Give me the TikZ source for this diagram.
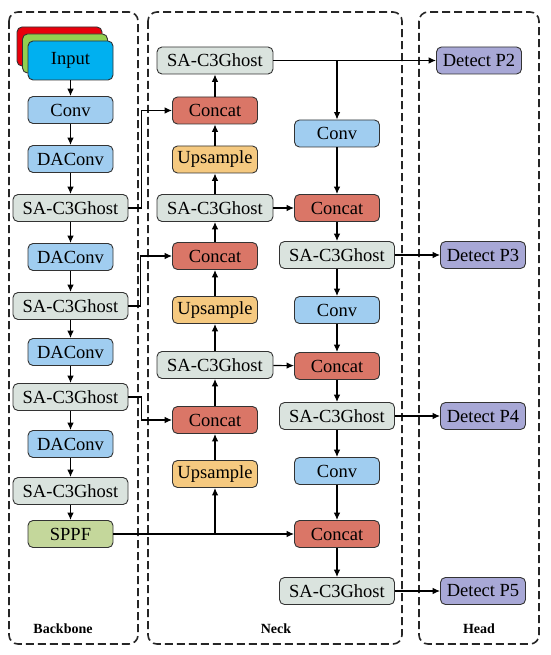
\documentclass[tikz,border=0pt]{standalone}
\usepackage{fontspec}
\setmainfont{Liberation Serif}
\usetikzlibrary{arrows.meta}
\definecolor{sagray}{RGB}{218,227,222}
\definecolor{convblue}{RGB}{160,205,240}
\definecolor{catred}{RGB}{218,118,103}
\definecolor{uporange}{RGB}{245,201,128}
\definecolor{sppfgreen}{RGB}{196,215,155}
\definecolor{detpurple}{RGB}{168,168,214}
\definecolor{inred}{RGB}{232,0,11}
\definecolor{ingreen}{RGB}{146,208,80}
\definecolor{incyan}{RGB}{0,176,240}
\begin{document}
\begin{tikzpicture}[x=1pt,y=-1pt,
		blk/.style={draw=black!80,line width=0.9pt,rounded corners=5pt,minimum height=27pt,minimum width=85pt,inner sep=0pt,font=\fontsize{18.5}{21}\selectfont},
		sabox/.style={blk,fill=sagray,minimum width=116pt},
		convbox/.style={blk,fill=convblue},
		catbox/.style={blk,fill=catred},
		upbox/.style={blk,fill=uporange},
		detbox/.style={blk,fill=detpurple},
		frame/.style={dashed,dash pattern=on 8pt off 4pt,line width=1.6pt,rounded corners=9pt,draw=black!85},
		title/.style={font=\fontsize{14}{16}\selectfont\bfseries},
		>={Latex[length=7.5pt,width=6.5pt]}]
		\useasboundingbox (0,0) rectangle (550,655);

		% frames
		\draw[frame] (9,12) rectangle (138,644);
		\draw[frame] (148,12) rectangle (402,644);
		\draw[frame] (419,12) rectangle (539,644);
		\node[title] (tbb) at (63,629) {Backbone};
		\node[title] (tneck) at (276,629) {Neck};
		\node[title] (thead) at (479,629) {Head};

		% backbone
		\node[blk,fill=inred,minimum height=39pt] (inr) at (59.5,46.5) {};
		\node[blk,fill=ingreen,minimum height=39pt] (ing) at (65,53.5) {};
		\node[blk,fill=incyan,minimum height=39pt] (inp) at (70.5,60.5) {Input};
		\node[convbox] (conv) at (70.5,110) {Conv};
		\node[convbox] (dac1) at (70.5,159) {DAConv};
		\node[sabox,minimum width=115pt] (sa1) at (70.5,208) {SA-C3Ghost};
		\node[convbox] (dac2) at (70.5,257) {DAConv};
		\node[sabox,minimum width=115pt] (sa2) at (70.5,306) {SA-C3Ghost};
		\node[convbox] (dac3) at (70.5,352) {DAConv};
		\node[sabox,minimum width=115pt] (sa3) at (70.5,397) {SA-C3Ghost};
		\node[convbox] (dac4) at (70.5,444) {DAConv};
		\node[sabox,minimum width=115pt] (sa4) at (70.5,491) {SA-C3Ghost};
		\node[blk,fill=sppfgreen] (sppf) at (70.5,534) {SPPF};

		% neck, up path
		\node[sabox] (nsa1) at (215,60.5) {SA-C3Ghost};
		\node[catbox] (cat1) at (215,110.5) {Concat};
		\node[upbox] (up1) at (215,159.5) {Upsample};
		\node[sabox] (nsa2) at (215,208) {SA-C3Ghost};
		\node[catbox] (cat2) at (215,256) {Concat};
		\node[upbox] (up2) at (215,310) {Upsample};
		\node[sabox] (nsa3) at (215,365) {SA-C3Ghost};
		\node[catbox] (cat3) at (215,420) {Concat};
		\node[upbox] (up3) at (215,474) {Upsample};

		% neck, down path
		\node[convbox] (conv2) at (337,133.5) {Conv};
		\node[catbox] (cat4) at (337,208) {Concat};
		\node[sabox,minimum width=115pt] (nsa4) at (337,255) {SA-C3Ghost};
		\node[convbox] (conv3) at (337,310) {Conv};
		\node[catbox] (cat5) at (337,366) {Concat};
		\node[sabox,minimum width=115pt] (nsa5) at (337,416) {SA-C3Ghost};
		\node[convbox] (conv4) at (337,471) {Conv};
		\node[catbox] (cat6) at (337,534) {Concat};
		\node[sabox,minimum width=115pt] (nsa6) at (337,591) {SA-C3Ghost};

		% head
		\node[detbox] (p2) at (479,60.5) {Detect P2};
		\node[detbox] (p3) at (483,255) {Detect P3};
		\node[detbox] (p4) at (483,416) {Detect P4};
		\node[detbox] (p5) at (483,591) {Detect P5};

		\begin{scope}[->,line width=1.1pt]
			\foreach \a/\b in {inp/conv,conv/dac1,dac1/sa1,sa1/dac2,dac2/sa2,sa2/dac3,dac3/sa3,sa3/dac4,dac4/sa4,sa4/sppf,
				up3/cat3,cat3/nsa3,nsa3/up2,up2/cat2,cat2/nsa2,nsa2/up1,up1/cat1,cat1/nsa1,
				conv2/cat4,cat4/nsa4,nsa4/conv3,conv3/cat5,cat5/nsa5,nsa5/conv4,conv4/cat6,cat6/nsa6,
				nsa1/p2,nsa4/p3,nsa5/p4,nsa6/p5,nsa2/cat4,nsa3/cat5,sppf/cat6}
				\draw(\a)--(\b);
			\draw(sa1.east)--++(13,0)|-(cat1.west);
			\draw(sa2.east)--++(12,0)|-(cat2.west);
			\draw(sa3.east)--++(13,0)|-(cat3.west);
			\draw(up3|-sppf)--(up3);
			\draw(conv2|-nsa1)--(conv2);
		\end{scope}
	\end{tikzpicture}
\end{document}
